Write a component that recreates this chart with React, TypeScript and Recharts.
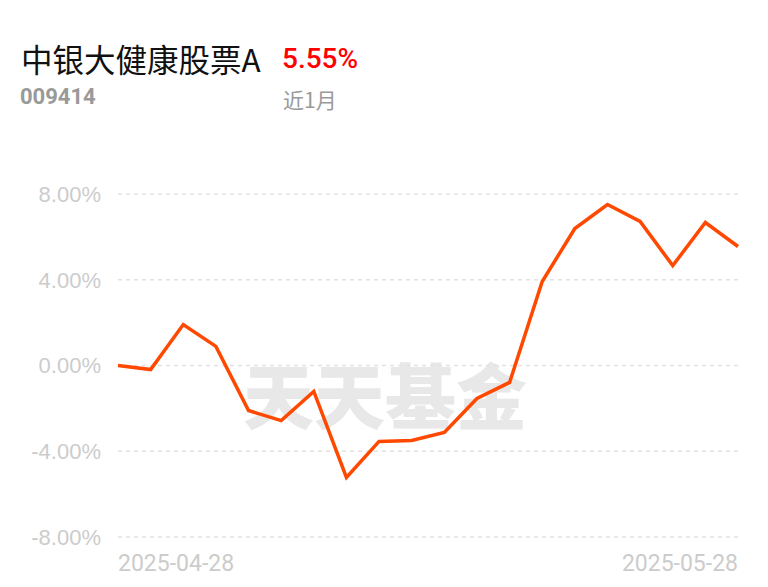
import React from 'react';
import { LineChart, Line, XAxis, YAxis, CartesianGrid } from 'recharts';

const dates = [
  '2025-04-28', '2025-04-29', '2025-04-30', '2025-05-06', '2025-05-07',
  '2025-05-08', '2025-05-09', '2025-05-12', '2025-05-13', '2025-05-14',
  '2025-05-15', '2025-05-16', '2025-05-19', '2025-05-20', '2025-05-21',
  '2025-05-22', '2025-05-23', '2025-05-26', '2025-05-27', '2025-05-28',
];
const returns = [
  0.0, -0.19, 1.91, 0.89, -2.1, -2.57, -1.21, -5.22, -3.54, -3.5,
  -3.12, -1.54, -0.79, 3.92, 6.39, 7.51, 6.72, 4.66, 6.67, 5.55,
];
const yTicks = [-8, -4, 0, 4, 8];
const xTicks = ['2025-04-28', '2025-05-28'];
const fundName = '中银大健康股票A';
const fundCode = '009414';
const periodReturn = '5.55%';
const periodLabel = '近1月';
const watermark = '天天基金';

const data = dates.map((d, i) => ({ date: d, value: returns[i] }));

const XTick = (props: any) => {
  const { x, y, payload } = props;
  const first = payload.value === xTicks[0];
  return (
    <text
      x={x}
      y={y + 26}
      textAnchor={first ? 'start' : 'end'}
      fill="#cccccc"
      fontSize={23}
      fontFamily="Roboto, sans-serif"
    >
      {payload.value}
    </text>
  );
};

export default function App() {
  return (
    <div style={{ position: 'absolute', left: 0, top: 0, width: 768, height: 587, background: '#fff', overflow: 'hidden' }}>
      <div style={{ position: 'absolute', left: 21, top: 37, fontSize: 31.5, color: '#111', fontFamily: '"Noto Sans CJK SC", sans-serif', lineHeight: '42px', whiteSpace: 'nowrap' }}>
        {fundName}
      </div>
      <div style={{ position: 'absolute', left: 282, top: 39, fontSize: 28, color: '#ff0000', fontFamily: 'Roboto, sans-serif', fontWeight: 500, lineHeight: '40px' }}>
        {periodReturn}
      </div>
      <div style={{ position: 'absolute', left: 20, top: 83, fontSize: 22, color: '#999', fontFamily: 'Roboto, sans-serif', fontWeight: 700, lineHeight: '28px' }}>
        {fundCode}
      </div>
      <div style={{ position: 'absolute', left: 283, top: 84, fontSize: 21, color: '#999', fontFamily: '"Noto Sans CJK SC", sans-serif', lineHeight: '30px' }}>
        {periodLabel}
      </div>
      <div style={{ position: 'absolute', left: 235, top: 350, width: 300, textAlign: 'center', fontSize: 71, fontWeight: 900, color: '#e8e8e8', fontFamily: '"Noto Sans CJK SC", serif', lineHeight: '84px', letterSpacing: 0 }}>
        {watermark}
      </div>
      <div style={{ position: 'absolute', left: 0, top: 0 }}>
        <LineChart width={768} height={587} data={data} margin={{ top: 194, right: 30, bottom: 20, left: 0 }}>
          <CartesianGrid vertical={false} stroke="#e2e2e2" strokeDasharray="4 4" strokeWidth={1.5} />
          <XAxis
            dataKey="date"
            scale="point"
            padding={{ left: 0, right: 0 }}
            ticks={xTicks}
            interval={0}
            axisLine={false}
            tickLine={false}
            height={30}
            tick={<XTick />}
          />
          <YAxis
            domain={[-8, 8]}
            ticks={yTicks}
            width={118}
            axisLine={false}
            tickLine={false}
            tickSize={6}
            tickMargin={11}
            tickFormatter={(v: number) => v.toFixed(2) + '%'}
            tick={{ fill: '#cccccc', fontSize: 22, fontFamily: '"Liberation Sans", sans-serif' }}
          />
          <Line
            type="linear"
            dataKey="value"
            stroke="#ff4800"
            strokeWidth={3.5}
            dot={false}
            isAnimationActive={false}
          />
        </LineChart>
      </div>
    </div>
  );
}
